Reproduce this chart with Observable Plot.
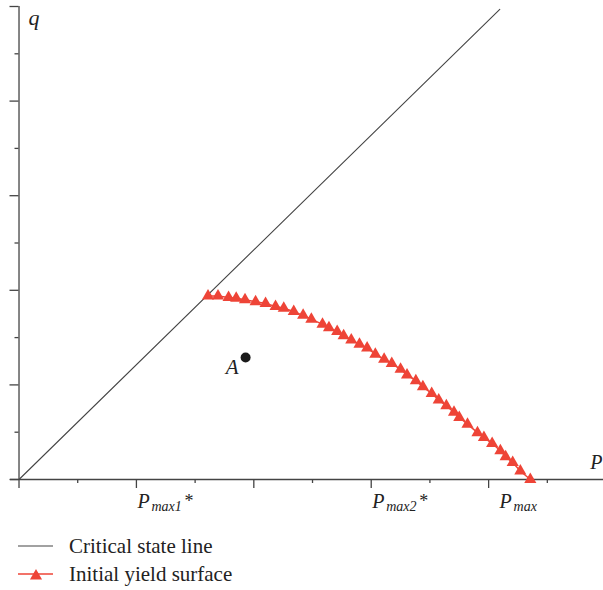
<!DOCTYPE html>
<html><head><meta charset="utf-8">
<script src="https://cdn.jsdelivr.net/npm/d3@7"></script>
<script src="https://cdn.jsdelivr.net/npm/@observablehq/plot@0.6"></script>
<style>
body{margin:0;background:#fff;overflow:hidden;font-family:"Liberation Serif",serif;}
#legend{padding-top:2px}
.row{display:flex;align-items:center;height:28px;font-size:21px;color:#222;white-space:nowrap}
.row svg{margin-left:18px;margin-right:15px;flex:none}
</style></head><body>
<div id="chart"></div>
<div id="legend"></div>
<script>
// Critical state line (p, q)
const cslP = [0, 8.19];
const cslQ = [0, 9.94];
// Initial yield surface markers (p, q)
const yieldP = [3.22, 3.39, 3.57, 3.70, 3.85, 4.03, 4.20, 4.37, 4.51, 4.68,
                4.84, 4.98, 5.17, 5.28, 5.42, 5.53, 5.66, 5.80, 5.93, 6.07,
                6.22, 6.35, 6.50, 6.61, 6.76, 6.88, 7.03, 7.15, 7.28, 7.41,
                7.50, 7.64, 7.81, 7.92, 8.06, 8.20, 8.29, 8.41, 8.54, 8.71];
const yieldQ = [3.88, 3.88, 3.85, 3.83, 3.80, 3.76, 3.72, 3.66, 3.62, 3.55,
                3.47, 3.39, 3.28, 3.21, 3.13, 3.04, 2.95, 2.86, 2.78, 2.65,
                2.54, 2.45, 2.33, 2.21, 2.09, 1.96, 1.82, 1.68, 1.56, 1.42,
                1.31, 1.17, 0.99, 0.89, 0.76, 0.61, 0.48, 0.36, 0.18, 0.00];
// Stress state A
const pointAP = [3.86];
const pointAQ = [2.58];
const pointALabel = ["A"];
// Axis ticks
const xMajor = [0, 2, 4, 6, 8];
const xMinor = [1, 3, 5, 7, 9];
const yMajor = [0, 2, 4, 6, 8, 10];
const yMinor = [1, 3, 5, 7, 9];
// x tick labels: P_sub^sup
const tickLabelP = [2, 6, 8.17];
const tickLabelSub = ["max1", "max2", "max"];
const tickLabelSup = ["*", "*", ""];
const axisLabelX = "P";
const axisLabelY = "q";
const seriesNames = ["Critical state line", "Initial yield surface"];

const ink = "#444";
const red = "#ee4437";
const txt = "#222";

const csl = cslP.map((p, i) => ({p, q: cslQ[i]}));
const ys = yieldP.map((p, i) => ({p, q: yieldQ[i]}));
const ptA = pointAP.map((p, i) => ({p, q: pointAQ[i], label: pointALabel[i]}));
const tl = tickLabelP.map((p, i) => ({p, sub: tickLabelSub[i], sup: tickLabelSup[i]}));
const blank = () => "";
const yAxisShift = 8.5; // y axis sits at p = 0, right of the frame edge

const chart = Plot.plot({
  width: 603, height: 530,
  marginLeft: 10, marginRight: 0, marginTop: 6, marginBottom: 51,
  x: {domain: [-0.145, 9.957], axis: null},
  y: {domain: [0, 10], axis: null},
  style: {fontFamily: "Liberation Serif, serif", background: "#fff", overflow: "hidden"},
  marks: [
    Plot.ruleY([0], {stroke: ink, strokeWidth: 1.3}),
    Plot.ruleX([0], {y1: 0, y2: 10, stroke: ink, strokeWidth: 1.3}),
    Plot.axisX({ticks: xMajor, tickSize: 9, tickFormat: blank, stroke: ink, strokeWidth: 1.3, label: null}),
    Plot.axisX({ticks: xMinor, tickSize: 4, tickFormat: blank, stroke: ink, strokeWidth: 1.3, label: null}),
    Plot.axisY({ticks: yMajor, tickSize: 9, tickFormat: blank, stroke: ink, strokeWidth: 1.3, label: null, dx: yAxisShift}),
    Plot.axisY({ticks: yMinor, tickSize: 4, tickFormat: blank, stroke: ink, strokeWidth: 1.3, label: null, dx: yAxisShift}),
    Plot.line(csl, {x: "p", y: "q", stroke: ink, strokeWidth: 1.1}),
    Plot.line(ys, {x: "p", y: "q", stroke: red, strokeWidth: 1.5}),
    Plot.dot(ys, {x: "p", y: "q", symbol: "triangle", r: 4.5, fill: red, stroke: null}),
    Plot.dot(ptA, {x: "p", y: "q", r: 5, fill: "#1a1a1a"}),
    Plot.text(ptA, {x: "p", y: "q", text: "label", textAnchor: "end", lineAnchor: "bottom",
      dx: -7, dy: 17, fontSize: 21, fontStyle: "italic", fill: txt}),
    Plot.text(tl, {x: "p", text: () => "P", frameAnchor: "bottom", textAnchor: "start", lineAnchor: "bottom",
      dx: 1, dy: 28, fontSize: 20, fontStyle: "italic", fill: txt}),
    Plot.text(tl, {x: "p", text: "sub", frameAnchor: "bottom",
      textAnchor: "start", lineAnchor: "bottom", dx: 15, dy: 31, fontSize: 14, fontStyle: "italic", fill: txt}),
    Plot.text(tl.filter(d => d.sup), {x: "p", text: "sup", frameAnchor: "bottom",
      textAnchor: "start", lineAnchor: "bottom", dx: 48, dy: 27, fontSize: 18, fill: txt}),
    Plot.text([axisLabelY], {text: d => d, frameAnchor: "top-left", textAnchor: "start", lineAnchor: "bottom",
      dx: 18, dy: 18, fontSize: 22, fontStyle: "italic", fill: txt}),
    Plot.text([axisLabelX], {text: d => d, frameAnchor: "bottom-right", textAnchor: "end", lineAnchor: "bottom",
      dx: -1, dy: -11, fontSize: 20, fontStyle: "italic", fill: txt})
  ]
});
document.getElementById("chart").append(chart);

// Legend
const legend = document.getElementById("legend");
const triPath = d3.symbol(d3.symbolTriangle, Math.PI * 4.5 * 4.5)();
const swatches = [
  `<svg width="36" height="28"><line x1="0" x2="35" y1="14" y2="14" stroke="${ink}" stroke-width="1.1"/></svg>`,
  `<svg width="36" height="28"><line x1="0" x2="35" y1="14" y2="14" stroke="${red}" stroke-width="1.5"/><path d="${triPath}" transform="translate(18,16)" fill="${red}"/></svg>`
];
seriesNames.forEach((name, i) => {
  const row = document.createElement("div");
  row.className = "row";
  row.innerHTML = swatches[i];
  const span = document.createElement("span");
  span.textContent = name;
  row.append(span);
  legend.append(row);
});
</script>
</body></html>
